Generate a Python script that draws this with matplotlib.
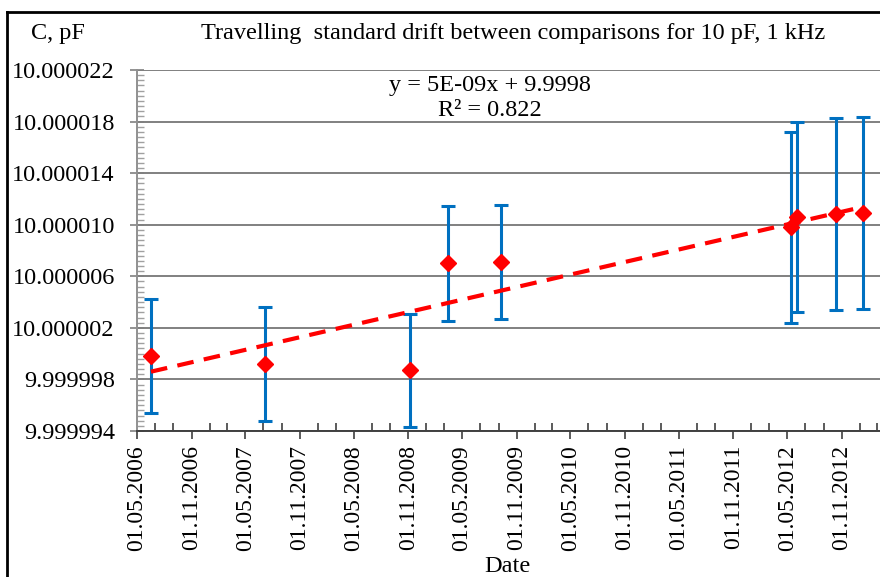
import numpy as np
import matplotlib
matplotlib.use('Agg')
import matplotlib.pyplot as plt
import matplotlib.dates as mdates
from matplotlib.ticker import MultipleLocator, FormatStrFormatter
from matplotlib.lines import Line2D

# comparison dates and measured capacitance of the travelling standard
dates = ['2006-06-17', '2007-07-05', '2008-11-08', '2009-03-16', '2009-09-10',
         '2012-05-13', '2012-06-04', '2012-10-11', '2013-01-13']
values = [9.9999998, 9.9999992, 9.9999987, 10.0000070, 10.0000071,
          10.0000098, 10.0000106, 10.0000108, 10.0000109]
# expanded uncertainty (pF)
uncert = [4.4e-6, 4.4e-6, 4.4e-6, 4.45e-6, 4.4e-6,
          7.4e-6, 7.4e-6, 7.45e-6, 7.45e-6]

y_ticks = [9.999994, 9.999998, 10.000002, 10.000006, 10.000010,
           10.000014, 10.000018, 10.000022]

title = 'Travelling  standard drift between comparisons for 10 pF, 1 kHz'
eq_text = 'y = 5E-09x + 9.9998'
r2_text = 'R\u00b2 = 0.822'

plt.rcParams['font.family'] = ['Liberation Serif', 'DejaVu Serif']

x = mdates.datestr2num(dates)
y = np.array(values)

fig = plt.figure(figsize=(8.8, 5.77), dpi=100)
ax = fig.add_axes([137/880, 1 - 431/577, 1 - 137/880, (431 - 70)/577])

# error bars then markers
ax.errorbar(x, y, yerr=uncert, fmt='none', ecolor='#0070C0', elinewidth=2.2,
            capsize=5, capthick=2.2, zorder=3)

# linear trend like excel
k, b = np.polyfit(x, y, 1)
xt = np.array([x.min(), x.max()])
ax.plot(xt, k * xt + b, color='#FF0000', lw=3, ls=(0, (4, 2.5)), zorder=4)

ax.plot(x, y, 'D', color='#FF0000', ms=8.5, zorder=5)

# axes limits and ticks
ax.set_xlim(mdates.datestr2num('2006-05-01'), mdates.datestr2num('2013-03-10'))
ax.set_ylim(y_ticks[0], y_ticks[-1])
ax.set_yticks(y_ticks)
ax.yaxis.set_major_formatter(FormatStrFormatter('%.6f'))
ax.yaxis.set_minor_locator(MultipleLocator(0.4e-6))

ax.xaxis.set_major_locator(mdates.MonthLocator(bymonth=(5, 11)))
ax.xaxis.set_minor_locator(mdates.MonthLocator(bymonth=(1, 3, 7, 9)))
ax.xaxis.set_major_formatter(mdates.DateFormatter('%d.%m.%Y'))
plt.setp(ax.get_xticklabels(), rotation=90)

ax.tick_params(axis='y', which='major', direction='inout', length=10, width=1.2,
               color='#808080', labelsize=17.5, pad=11)
ax.tick_params(axis='y', which='minor', direction='in', length=5, width=1,
               color='#a0a0a0')
ax.tick_params(axis='x', which='major', direction='out', length=6, width=1.2,
               color='#404040', labelsize=17, pad=4)
ax.tick_params(axis='x', which='minor', direction='in', length=6, width=1.2,
               color='#404040')

ax.grid(axis='y', which='major', color='#808080', lw=1.4)
ax.set_axisbelow(True)
for s in ['top', 'right']:
    ax.spines[s].set_visible(False)
ax.spines['left'].set_color('#909090')
ax.spines['left'].set_linewidth(1.4)
ax.spines['bottom'].set_color('#404040')
ax.spines['bottom'].set_linewidth(1.4)

# texts
fig.text(58/880, 1 - 33/577, 'C, pF', ha='center', va='center', fontsize=17.5)
fig.text(513/880, 1 - 33/577, title, ha='center', va='center', fontsize=17.5)
fig.text(490/880, 1 - 86/577, eq_text, ha='center', va='center', fontsize=17.5)
fig.text(490/880, 1 - 111/577, r2_text, ha='center', va='center', fontsize=17.5)
fig.text(507/880, 1 - 566/577, 'Date', ha='center', va='center', fontsize=17.5)

# outer frame of the chart
fig.add_artist(Line2D([7/880, 7/880], [0, 1 - 12/577], color='black', lw=2))
fig.add_artist(Line2D([7/880, 1], [1 - 12/577, 1 - 12/577], color='black', lw=2))

fig.savefig('out.png', dpi=100)
